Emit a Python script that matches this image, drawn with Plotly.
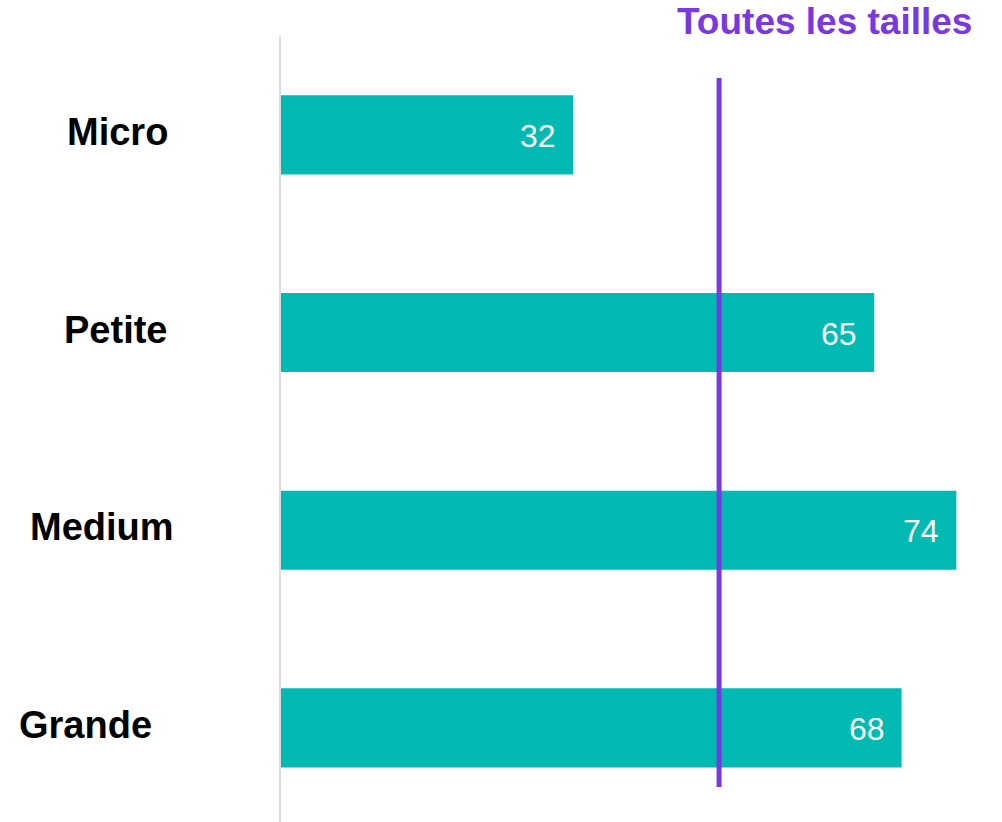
import plotly.graph_objects as go

categories = ['Micro', 'Petite', 'Medium', 'Grande']
values = [32, 65, 74, 68]
all_sizes = 48
ref_label = 'Toutes les tailles'

teal = '#00B9B3'
purple = '#7A38E3'
font_family = 'Arial, Liberation Sans, sans-serif'

fig = go.Figure()

fig.add_bar(
    x=values,
    y=categories,
    orientation='h',
    width=0.4,
    marker=dict(color=teal, line=dict(width=0)),
    hoverinfo='skip',
)

# value labels inside the bar end, with a bit more padding than plotly's default
annotations = []
for cat, val in zip(categories, values):
    annotations.append(dict(
        x=val, y=cat, xref='x', yref='y',
        text=str(val), showarrow=False,
        xanchor='right', yanchor='middle', xshift=-15, yshift=-1,
        font=dict(family=font_family, size=32, color='white'),
    ))

# category labels sit at slightly different spots in the original
label_centers_px = [117, 115, 102, 85]
for cat, px in zip(categories, label_centers_px):
    annotations.append(dict(
        x=(px - 281) / 721, y=cat, xref='paper', yref='y',
        text='<b>%s</b>' % cat, showarrow=False,
        xanchor='center', yanchor='middle', yshift=3,
        font=dict(family=font_family, size=38, color='black'),
    ))

annotations.append(dict(
    x=(974 - 281) / 721, y=1 + (36 - 21) / 786, xref='paper', yref='paper',
    text='<b>%s</b>' % ref_label, showarrow=False,
    xanchor='right', yanchor='middle',
    font=dict(family=font_family, size=37, color=purple),
))

fig.add_shape(
    type='line', xref='x', yref='paper',
    x0=all_sizes, x1=all_sizes, y0=0.0445, y1=0.9466,
    line=dict(color=purple, width=5),
)

fig.update_layout(
    width=1002,
    height=822,
    margin=dict(l=281, r=0, t=36, b=0),
    paper_bgcolor='white',
    plot_bgcolor='white',
    showlegend=False,
    annotations=annotations,
    xaxis=dict(range=[0, 79], visible=False, fixedrange=True),
    yaxis=dict(
        type='category', range=[3.476, -0.5],
        showticklabels=False, ticks='', showgrid=False, zeroline=False,
        showline=True, linecolor='#DCDCDC', linewidth=2,
    ),
)

fig.write_html("out.html", config={'displayModeBar': False},
               post_script="document.body.style.margin='0';")
